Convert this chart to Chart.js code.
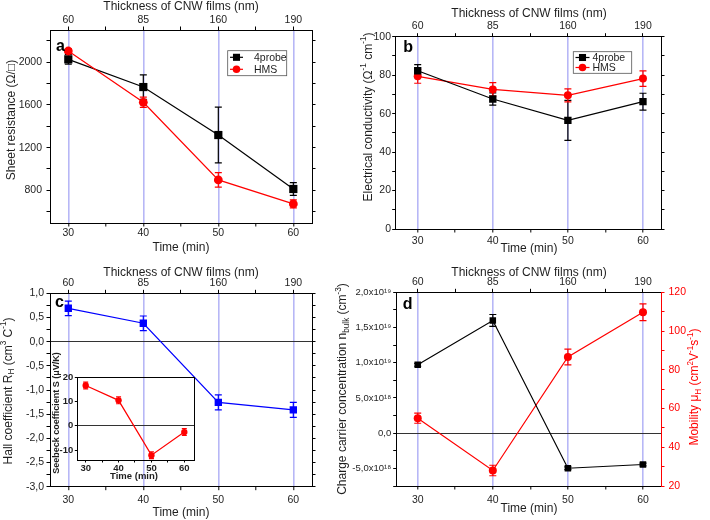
<!DOCTYPE html>
<html>
<head>
<meta charset="utf-8">
<script src="https://cdn.jsdelivr.net/npm/chart.js@4.4.0/dist/chart.umd.min.js"></script>
<style>
html, body { margin: 0; padding: 0; background: #fff; }
#wrap { position: relative; width: 710px; height: 520px; overflow: hidden; background: #fff; }
canvas { position: absolute; }
</style>
</head>
<body>
<div id="wrap">
  <canvas id="chartA" style="left:0px;top:0px" width="355" height="260"></canvas>
  <canvas id="chartB" style="left:340px;top:0px" width="370" height="260"></canvas>
  <canvas id="chartC" style="left:0px;top:260px" width="340" height="260"></canvas>
  <canvas id="chartD" style="left:335px;top:260px" width="375" height="260"></canvas>
  <canvas id="chartInset" style="left:40px;top:345px" width="165" height="140"></canvas>
</div>
<script>
// values
const timeMin = [30, 40, 50, 60]
const thicknessNm = ['60', '85', '160', '190']

const sheet4probe = [2028, 1768, 1318, 812]
const sheet4probeErr = [45, 115, 262, 60]
const sheetHMS = [2106, 1625, 897, 672]
const sheetHMSErr = [22, 48, 68, 38]

const cond4probe = [82.3, 67.6, 56.5, 66.2]
const cond4probeErr = [3.2, 3.2, 10.4, 4.4]
const condHMS = [79.4, 72.6, 69.5, 78.2]
const condHMSErr = [3.6, 3.5, 3.4, 4.0]

const hallCoef = [0.69, 0.38, -1.255, -1.41]
const hallErr = [0.15, 0.15, 0.155, 0.155]

const seebeck = [16.6, 10.5, -12.1, -2.6]
const seebeckErr = [1.4, 1.4, 1.4, 1.4]

const carrierConc = [9.7e18, 1.6e19, -4.98e18, -4.45e18]
const carrierErr = [2e17, 8.5e17, 2e17, 2e17]
const mobility = [55, 28, 86.6, 109.7]
const mobilityErr = [2.6, 2.7, 4.1, 4.3]

// tick positions
const timeTicks = [30, 35, 40, 45, 50, 55, 60]
const sheetTicks = [600, 800, 1000, 1200, 1400, 1600, 1800, 2000, 2200]
const condTicks = [0, 10, 20, 30, 40, 50, 60, 70, 80, 90, 100]
const hallTicks = [-3, -2.75, -2.5, -2.25, -2, -1.75, -1.5, -1.25, -1, -0.75, -0.5, -0.25, 0, 0.25, 0.5, 0.75, 1]
const seebeckTicks = [-10, 0, 10, 20]
const concTicks = [-7.5e18, -5e18, -2.5e18, 0, 2.5e18, 5e18, 7.5e18, 1e19, 1.25e19, 1.5e19, 1.75e19, 2e19]
// keyed by value / 1e17
const concLabels = {'-50': '-5,0x10¹⁸', '0': '0,0', '50': '5,0x10¹⁸', '100': '1,0x10¹⁹', '150': '1,5x10¹⁹', '200': '2,0x10¹⁹'}
const mobTicks = [20, 30, 40, 50, 60, 70, 80, 90, 100, 110, 120]

const FONT = "'Liberation Sans', Arial, Helvetica, sans-serif"
const BLUE_GRID = 'rgba(95, 95, 235, 0.45)'
const RED = '#ff0000'
const TXT = '#1e1e1e'
const TITLE = 12
const TICK = 10.5

const pts = arr => timeMin.map((t, i) => ({x: t, y: arr[i]}))
const comma = v => v.toFixed(1).replace('.', ',')

// text with ^{sup} and _{sub}
const richText = (ctx, t) => {
    const size = t.size || TITLE
    const weight = t.bold ? 'bold ' : ''
    const parts = []
    const re = /\^\{([^}]*)\}|_\{([^}]*)\}|([^^_]+)/g
    let m
    while ((m = re.exec(t.s)) !== null) {
        if (m[1] !== undefined) parts.push({t: m[1], mode: 1})
        else if (m[2] !== undefined) parts.push({t: m[2], mode: -1})
        else parts.push({t: m[3], mode: 0})
    }
    ctx.save()
    ctx.translate(t.x, t.y)
    if (t.rot) ctx.rotate(t.rot)
    ctx.fillStyle = t.color || TXT
    ctx.textBaseline = t.baseline || 'middle'
    ctx.textAlign = 'left'
    let total = 0
    parts.forEach(p => {
        p.size = p.mode ? size * 0.68 : size
        ctx.font = weight + p.size + 'px ' + FONT
        p.w = ctx.measureText(p.t).width
        total += p.w
    })
    let cx = t.align === 'left' ? 0 : -total / 2
    parts.forEach(p => {
        ctx.font = weight + p.size + 'px ' + FONT
        const dy = p.mode === 1 ? -size * 0.38 : (p.mode === -1 ? size * 0.3 : 0)
        ctx.fillText(p.t, cx, dy)
        cx += p.w
    })
    ctx.restore()
}

const drawMarker = (ctx, style, x, y, r, color) => {
    ctx.fillStyle = color
    ctx.beginPath()
    if (style === 'rect') {
        const h = r * Math.SQRT1_2
        ctx.rect(x - h, y - h, 2 * h, 2 * h)
    } else {
        ctx.arc(x, y, r, 0, Math.PI * 2)
    }
    ctx.fill()
}

// per-canvas extras: texts, legend, frame
const decoConfig = {}

const deco = {
    id: 'deco',
    beforeDatasetsDraw(chart) {
        const ctx = chart.ctx
        chart.data.datasets.forEach((ds, i) => {
            if (!ds.errs) return
            const meta = chart.getDatasetMeta(i)
            const ys = chart.scales[meta.yAxisID]
            const cap = ds.capHalf || 3.5
            ctx.save()
            ctx.strokeStyle = ds.borderColor
            ctx.lineWidth = 1.2
            meta.data.forEach((pt, j) => {
                const v = ds.data[j].y
                const e = ds.errs[j]
                const y1 = ys.getPixelForValue(v + e)
                const y2 = ys.getPixelForValue(v - e)
                ctx.beginPath()
                ctx.moveTo(pt.x, y1); ctx.lineTo(pt.x, y2)
                ctx.moveTo(pt.x - cap, y1); ctx.lineTo(pt.x + cap, y1)
                ctx.moveTo(pt.x - cap, y2); ctx.lineTo(pt.x + cap, y2)
                ctx.stroke()
            })
            ctx.restore()
        })
    },
    afterDraw(chart) {
        const cfg = decoConfig[chart.canvas.id]
        if (!cfg) return
        const ctx = chart.ctx
        if (cfg.frame) {
            const a = chart.chartArea
            ctx.save()
            ctx.strokeStyle = '#000'
            ctx.lineWidth = 1
            ctx.strokeRect(Math.round(a.left) + 0.5, Math.round(a.top) + 0.5, Math.round(a.right - a.left), Math.round(a.bottom - a.top))
            ctx.restore()
        }
        (cfg.texts || []).forEach(t => richText(ctx, t))
        const lg = cfg.legend
        if (lg) {
            ctx.save()
            ctx.strokeStyle = '#555'
            ctx.lineWidth = 0.8
            ctx.strokeRect(lg.box[0], lg.box[1], lg.box[2] - lg.box[0], lg.box[3] - lg.box[1])
            lg.items.forEach(it => {
                const ds = chart.data.datasets[it.ds]
                ctx.strokeStyle = ds.borderColor
                ctx.lineWidth = 1.2
                ctx.beginPath()
                ctx.moveTo(lg.x0, it.y); ctx.lineTo(lg.x1, it.y)
                ctx.stroke()
                drawMarker(ctx, ds.pointStyle, (lg.x0 + lg.x1) / 2, it.y, ds.pointStyle === 'rect' ? 5 : 3.8, ds.borderColor)
                ctx.fillStyle = TXT
                ctx.font = '10.5px ' + FONT
                ctx.textBaseline = 'middle'
                ctx.fillText(ds.label, lg.tx, it.y + 0.5)
            })
            ctx.restore()
        }
    }
}
Chart.register(deco)

// one axis, with fixed box size so the plot areas line up with the figure
const axis = o => ({
    type: 'linear',
    position: o.pos,
    min: o.min,
    max: o.max,
    afterBuildTicks: s => { s.ticks = o.ticks.map(v => ({value: v})) },
    afterFit: s => {
        if (o.pos === 'left' || o.pos === 'right') s.width = o.size
        else s.height = o.size
    },
    border: {display: true, color: o.color || '#000', width: 1},
    grid: {
        drawOnChartArea: !!o.gridColor,
        color: o.gridColor || 'transparent',
        lineWidth: o.gridWidth || 1,
        drawTicks: true,
        tickLength: o.tickLength || 3.5,
        tickColor: o.color || '#000',
        tickWidth: 1
    },
    ticks: {
        callback: o.label || (() => ''),
        font: {family: FONT, size: o.fontSize || TICK, weight: o.bold ? 'bold' : 'normal'},
        color: o.labelColor || TXT,
        padding: o.pad === undefined ? 2 : o.pad,
        autoSkip: false,
        maxRotation: 0,
        minRotation: 0
    }
})

const timeLabel = v => (v % 10 === 0 ? String(v) : '')
const thickLabel = v => (v % 10 === 0 ? thicknessNm[timeMin.indexOf(v)] : '')
const blueLines = ctx => (ctx.tick && ctx.tick.value % 10 === 0 ? BLUE_GRID : 'transparent')
const zeroLine = ctx => (ctx.tick && ctx.tick.value === 0 ? '#333' : 'transparent')

const baseOptions = (scales, padding) => ({
    responsive: false,
    maintainAspectRatio: false,
    devicePixelRatio: 1,
    animation: false,
    events: [],
    layout: {padding: padding || 0},
    plugins: {legend: {display: false}, tooltip: {enabled: false}},
    scales: scales
})

const lineSet = (label, arr, errs, color, style, radius, extra) => Object.assign({
    label: label,
    data: pts(arr),
    errs: errs,
    borderColor: color,
    backgroundColor: color,
    borderWidth: 1.2,
    pointStyle: style,
    pointRadius: radius,
    pointBorderWidth: 0,
    tension: 0
}, extra || {})

// ---- a: sheet resistance
decoConfig.chartA = {
    texts: [
        {s: 'Thickness of CNW films (nm)', x: 181, y: 7},
        {s: 'Time (min)', x: 181, y: 248},
        {s: 'Sheet resistance (Ω/□)', x: 12, y: 120, rot: -Math.PI / 2},
        {s: 'a', x: 56, y: 50.7, size: 16, bold: true, align: 'left', baseline: 'alphabetic', color: '#000'}
    ],
    legend: {box: [227.7, 50.7, 286.7, 75.7], x0: 230, x1: 243, tx: 254, items: [{ds: 0, y: 57.3}, {ds: 1, y: 69.3}]}
}
new Chart(document.getElementById('chartA').getContext('2d'), {
    type: 'line',
    data: {datasets: [
        lineSet('4probe', sheet4probe, sheet4probeErr, '#000', 'rect', 5.8, {order: 1}),
        lineSet('HMS', sheetHMS, sheetHMSErr, RED, 'circle', 4.4, {order: 0})
    ]},
    options: baseOptions({
        x: axis({pos: 'bottom', min: 27.56, max: 62.49, ticks: timeTicks, size: 37, label: timeLabel, gridColor: blueLines, gridWidth: 1.6, pad: 0}),
        x2: axis({pos: 'top', min: 27.56, max: 62.49, ticks: timeTicks, size: 30, label: thickLabel, pad: 0.5}),
        y: axis({pos: 'left', min: 493, max: 2303, ticks: sheetTicks, size: 50, label: v => (v % 400 === 0 ? String(v) : ''), pad: 4.5}),
        y2: axis({pos: 'right', min: 493, max: 2303, ticks: sheetTicks, size: 43})
    })
})

// ---- b: electrical conductivity
decoConfig.chartB = {
    texts: [
        {s: 'Thickness of CNW films (nm)', x: 189, y: 13.3},
        {s: 'Time (min)', x: 189, y: 249},
        {s: 'Electrical conductivity (Ω^{-1} cm^{-1})', x: 28.3, y: 117, rot: -Math.PI / 2},
        {s: 'b', x: 63.3, y: 51.7, size: 16, bold: true, align: 'left', baseline: 'alphabetic', color: '#000'}
    ],
    legend: {box: [233.3, 51.7, 291.7, 73.3], x0: 235.5, x1: 249.5, tx: 252.5, items: [{ds: 0, y: 57.5}, {ds: 1, y: 67.5}]}
}
new Chart(document.getElementById('chartB').getContext('2d'), {
    type: 'line',
    data: {datasets: [
        lineSet('4probe', cond4probe, cond4probeErr, '#000', 'rect', 5.2),
        lineSet('HMS', condHMS, condHMSErr, RED, 'circle', 4)
    ]},
    options: baseOptions({
        x: axis({pos: 'bottom', min: 27.07, max: 62.4, ticks: timeTicks, size: 31, label: timeLabel, gridColor: blueLines, gridWidth: 1.6, pad: 2}),
        x2: axis({pos: 'top', min: 27.07, max: 62.4, ticks: timeTicks, size: 36.7, label: thickLabel, pad: 0.5}),
        y: axis({pos: 'left', min: 0, max: 100, ticks: condTicks, size: 55.7, label: v => (v % 20 === 0 ? String(v) : ''), pad: 1.2}),
        y2: axis({pos: 'right', min: 0, max: 100, ticks: condTicks, size: 49})
    })
})

// ---- c: Hall coefficient
decoConfig.chartC = {
    texts: [
        {s: 'Thickness of CNW films (nm)', x: 181, y: 12.3},
        {s: 'Time (min)', x: 181, y: 252.3},
        {s: 'Hall coefficient R_{H} (cm^{3} C^{-1})', x: 8.5, y: 131, rot: -Math.PI / 2},
        {s: 'c', x: 55, y: 47.3, size: 16, bold: true, align: 'left', baseline: 'alphabetic', color: '#000'}
    ]
}
new Chart(document.getElementById('chartC').getContext('2d'), {
    type: 'line',
    data: {datasets: [
        lineSet('Hall', hallCoef, hallErr, '#0000ff', 'rect', 5.2)
    ]},
    options: baseOptions({
        x: axis({pos: 'bottom', min: 27.56, max: 62.49, ticks: timeTicks, size: 33.3, label: timeLabel, gridColor: blueLines, gridWidth: 1.6, pad: 3.8}),
        x2: axis({pos: 'top', min: 27.56, max: 62.49, ticks: timeTicks, size: 33.3, label: thickLabel, pad: 0.5}),
        y: axis({pos: 'left', min: -3, max: 1, ticks: hallTicks, size: 50, label: v => (Math.abs(v * 2 - Math.round(v * 2)) < 1e-9 ? comma(v) : ''), gridColor: zeroLine, pad: 2.5}),
        y2: axis({pos: 'right', min: -3, max: 1, ticks: hallTicks, size: 28})
    })
})

// ---- c inset: Seebeck coefficient
decoConfig.chartInset = {
    frame: true,
    texts: [
        {s: 'Seebeck coefficient S (μV/K)', x: 17, y: 68, rot: -Math.PI / 2, size: 9, bold: true},
        {s: 'Time (min)', x: 94, y: 131, size: 9.5, bold: true}
    ]
}
new Chart(document.getElementById('chartInset').getContext('2d'), {
    type: 'line',
    data: {datasets: [
        lineSet('Seebeck', seebeck, seebeckErr, RED, 'circle', 3.2, {capHalf: 2.5})
    ]},
    options: baseOptions({
        x: axis({pos: 'bottom', min: 27.45, max: 62.95, ticks: timeTicks, size: 25, label: timeLabel, fontSize: 9.5, bold: true, tickLength: 2.5, pad: 0}),
        y: axis({pos: 'left', min: -14.1, max: 20, ticks: seebeckTicks, size: 37.3, label: v => String(v), gridColor: zeroLine, fontSize: 9.5, bold: true, tickLength: 2.5, pad: 1.5})
    }, {top: 32.3, right: 11, left: 0, bottom: 0})
})

// ---- d: carrier concentration and mobility
decoConfig.chartD = {
    texts: [
        {s: 'Thickness of CNW films (nm)', x: 194, y: 12.3},
        {s: 'Time (min)', x: 194, y: 248.3},
        {s: 'Charge carrier concentration n_{bulk} (cm^{-3})', x: 8, y: 129, rot: -Math.PI / 2},
        {s: 'Mobility μ_{H} (cm^{2}V^{-1}s^{-1})', x: 360, y: 127, rot: -Math.PI / 2, color: RED},
        {s: 'd', x: 67.7, y: 49.3, size: 16, bold: true, align: 'left', baseline: 'alphabetic', color: '#000'}
    ]
}
new Chart(document.getElementById('chartD').getContext('2d'), {
    type: 'line',
    data: {datasets: [
        lineSet('n bulk', carrierConc, carrierErr, '#000', 'rect', 4.6, {yAxisID: 'y'}),
        lineSet('Mobility', mobility, mobilityErr, RED, 'circle', 4, {yAxisID: 'y2'})
    ]},
    options: baseOptions({
        x: axis({pos: 'bottom', min: 27.2, max: 62.4, ticks: timeTicks, size: 34, label: timeLabel, gridColor: blueLines, gridWidth: 1.6, pad: 4.5}),
        x2: axis({pos: 'top', min: 27.2, max: 62.4, ticks: timeTicks, size: 32.3, label: thickLabel, pad: 0}),
        y: axis({pos: 'left', min: -7.5e18, max: 2e19, ticks: concTicks, size: 61.7, label: v => concLabels[String(Math.round(v / 1e17))] || '', gridColor: zeroLine, fontSize: 9.5, pad: 2}),
        y2: axis({pos: 'right', min: 20, max: 120, ticks: mobTicks, size: 49, label: v => (v % 20 === 0 ? String(v) : ''), color: RED, labelColor: RED, pad: 4})
    })
})
</script>
</body>
</html>
